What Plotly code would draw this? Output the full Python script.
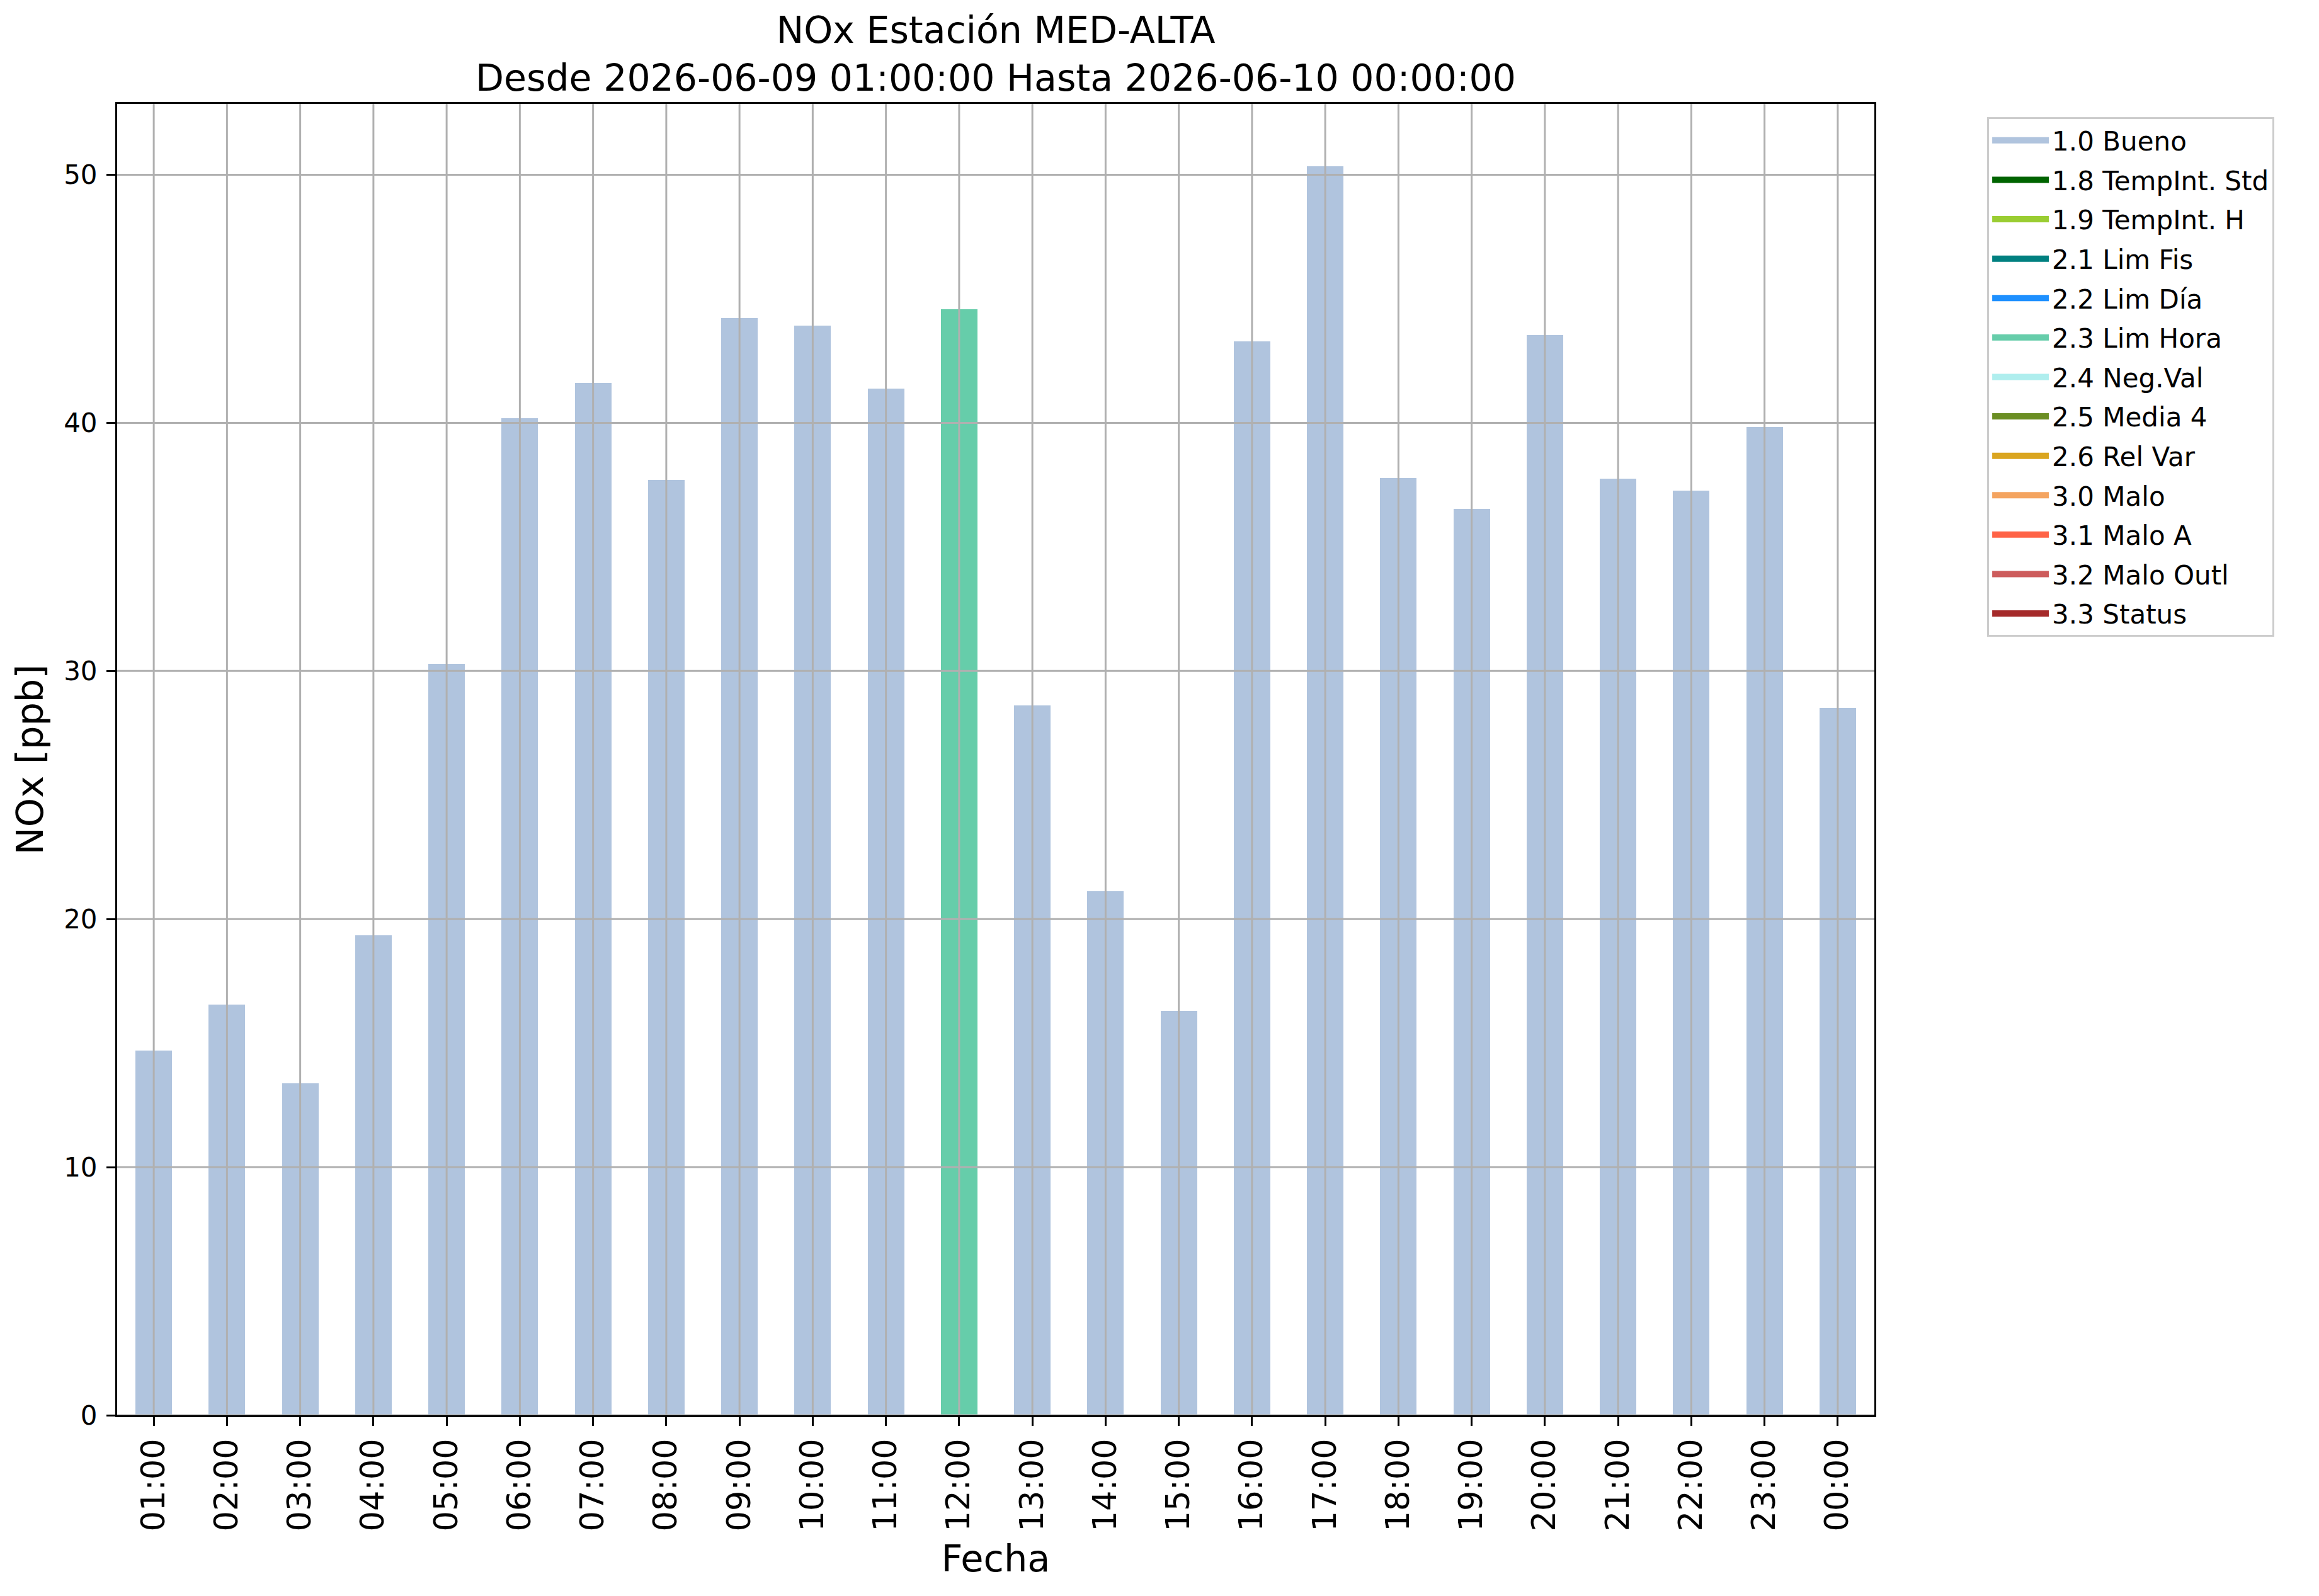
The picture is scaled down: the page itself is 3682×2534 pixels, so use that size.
import plotly.graph_objects as go

# Hourly NOx values (ppb) and their quality flag
horas = ['01:00', '02:00', '03:00', '04:00', '05:00', '06:00', '07:00', '08:00',
         '09:00', '10:00', '11:00', '12:00', '13:00', '14:00', '15:00', '16:00',
         '17:00', '18:00', '19:00', '20:00', '21:00', '22:00', '23:00', '00:00']
nox = [14.69, 16.55, 13.39, 19.34, 30.28, 40.18, 41.61, 37.71,
       44.22, 43.93, 41.38, 44.59, 28.61, 21.11, 16.29, 43.29,
       50.34, 37.77, 36.53, 43.54, 37.75, 37.27, 39.84, 28.52]
flags = ['1.0', '1.0', '1.0', '1.0', '1.0', '1.0', '1.0', '1.0',
         '1.0', '1.0', '1.0', '2.3', '1.0', '1.0', '1.0', '1.0',
         '1.0', '1.0', '1.0', '1.0', '1.0', '1.0', '1.0', '1.0']

# Flag codes, legend names and colours
codigos = ['1.0', '1.8', '1.9', '2.1', '2.2', '2.3', '2.4', '2.5', '2.6', '3.0', '3.1', '3.2', '3.3']
nombres = ['1.0 Bueno', '1.8 TempInt. Std', '1.9 TempInt. H', '2.1 Lim Fis', '2.2 Lim Día',
           '2.3 Lim Hora', '2.4 Neg.Val', '2.5 Media 4', '2.6 Rel Var', '3.0 Malo',
           '3.1 Malo A', '3.2 Malo Outl', '3.3 Status']
colores = ['lightsteelblue', 'darkgreen', 'yellowgreen', 'teal', 'dodgerblue',
           'mediumaquamarine', 'paleturquoise', 'olivedrab', 'goldenrod', 'sandybrown',
           'tomato', 'indianred', 'brown']

yticks = [0, 10, 20, 30, 40, 50]

FONT = 'DejaVu Sans'
fig = go.Figure()

for cod, nom, col in zip(codigos, nombres, colores):
    serie = [v if f == cod else None for v, f in zip(nox, flags)]
    fig.add_trace(go.Bar(x=horas, y=serie, name=nom, marker=dict(color=col, line=dict(width=0)),
                         width=0.5, legendgroup=nom, showlegend=False))
    # legend entry drawn as a wide patch
    fig.add_trace(go.Scatter(x=[None], y=[None], mode='lines', name=nom, legendgroup=nom,
                             line=dict(color=col, width=28)))

# grid drawn over the bars, like matplotlib
grid = dict(color='#b0b0b0', width=3)
for h in horas:
    fig.add_shape(type='line', xref='x', yref='paper', x0=h, x1=h, y0=0, y1=1,
                  line=grid, layer='above')
for t in yticks:
    fig.add_shape(type='line', xref='paper', yref='y', x0=0, x1=1, y0=t, y1=t,
                  line=grid, layer='above')

fig.update_layout(
    width=3682, height=2534, autosize=False,
    paper_bgcolor='white', plot_bgcolor='white',
    barmode='stack', bargap=0.5,
    margin=dict(l=178, r=714, t=157, b=295),
    font=dict(family=FONT, color='black'),
    title=dict(text='NOx Estación MED-ALTA<br>Desde 2026-06-09 01:00:00 Hasta 2026-06-10 00:00:00',
               x=0.5, xref='paper', xanchor='center', y=1 - 60 / 2534, yref='container',
               yanchor='middle', font=dict(size=58.5, family=FONT, color='black')),
    legend=dict(x=1.0642, y=0.9899, xanchor='left', yanchor='top', bgcolor='rgba(255,255,255,0.8)',
                bordercolor='#cccccc', borderwidth=3, font=dict(size=42, family=FONT),
                traceorder='grouped', tracegroupgap=5, itemwidth=90),
)

fig.update_xaxes(
    type='category', categoryorder='array', categoryarray=horas, range=[-0.5, len(horas) - 0.5],
    showgrid=False, showline=True, mirror=True, linecolor='black', linewidth=3,
    ticks='outside', ticklen=14, tickwidth=3, tickcolor='black', tickangle=-90,
    tickfont=dict(size=51, family=FONT), ticklabelstandoff=0,
    title=dict(text='Fecha', font=dict(size=59, family=FONT), standoff=24),
)
fig.update_yaxes(
    range=[0, max(nox) * 1.05], tickvals=yticks, showgrid=False, zeroline=False,
    showline=True, mirror=True, linecolor='black', linewidth=3,
    ticks='outside', ticklen=14, tickwidth=3, tickcolor='black',
    tickfont=dict(size=42, family=FONT), ticklabelstandoff=6,
    title=dict(text='NOx [ppb]', font=dict(size=59, family=FONT), standoff=14),
)

fig.write_html('out.html')
